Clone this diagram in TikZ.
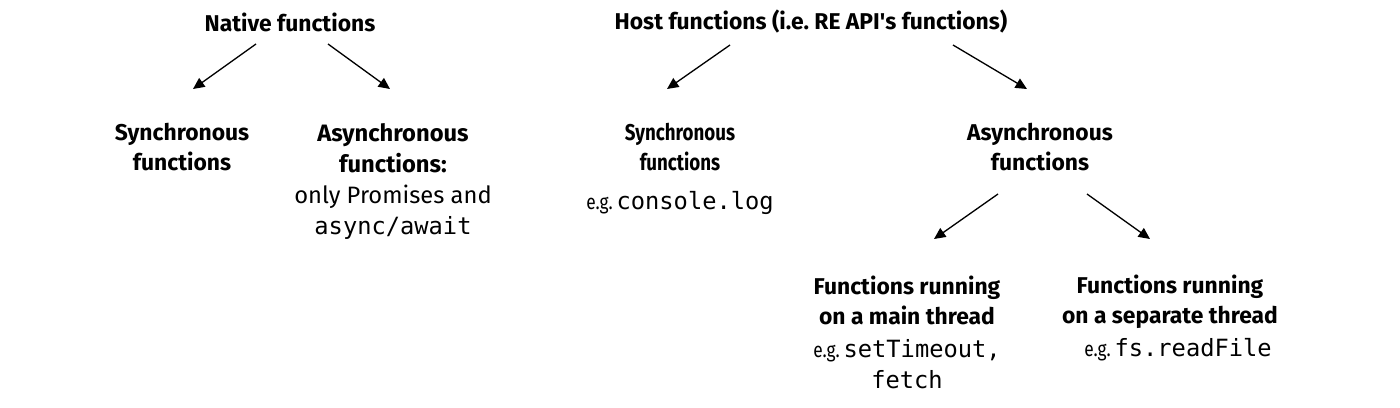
\documentclass[tikz,border=0pt]{standalone}
\usepackage{fontspec}
\setmainfont{Fira Sans}
\setmonofont{DejaVu Sans Mono}
\newfontfamily\condfont[FakeStretch=0.82]{Fira Sans}
\usetikzlibrary{arrows.meta}
\newcommand{\eg}{{\condfont\fontsize{12}{14}\selectfont e.g.}\,}

\begin{document}
\begin{tikzpicture}[
  head/.style={inner sep=0pt, align=center, font=\fontsize{13}{17}\selectfont\bfseries},
  condhead/.style={head, font=\fontsize{13}{17}\selectfont\condfont\bfseries},
  note/.style={inner sep=0pt, align=center, font=\fontsize{13.5}{17.6}\selectfont},
  arrow/.style={-{Triangle[length=6.5pt, width=6pt]}, line width=0.75pt}
]
\useasboundingbox (0,0) rectangle (28,-8.14);

% Native side
\node[head] (native) at (5.8,-0.44) {Native functions};
\node[head] (nsync) at (3.64,-2.94) {Synchronous\\functions};
\node[note] (nasync) at (7.86,-3.63) {\textbf{Asynchronous}\\\textbf{functions:}\\only Promises and\\\texttt{async/await}};

% Host side
\node[head] (host) at (16.22,-0.44) {Host functions (i.e.\ RE API\textquotesingle s functions)};
\node[condhead] (hsync) at (13.6,-2.94) {Synchronous\\functions};
\node[note] (hsyncex) at (13.6,-4.06) {\eg\texttt{console.log}};
\node[head] (hasync) at (20.8,-2.94) {Asynchronous\\functions};

% Async host functions
\node[head] (hmain) at (18.14,-6.0) {Functions running\\on a main thread};
\node[note] (hmainex) at (18.14,-7.28) {\eg\texttt{setTimeout,}\\\texttt{fetch}};
\node[head] (hsep) at (23.4,-6.04) {Functions running\\on a separate thread};
\node[note] (hsepex) at (23.56,-7.0) {\eg\texttt{fs.readFile}};

\draw[arrow] ([shift={(-0.68,-0.44)}]native.center) -- ([shift={(0.22,1.16)}]nsync.center);
\draw[arrow] ([shift={(0.76,-0.44)}]native.center) -- ([shift={(-0.06,1.85)}]nasync.center);
\draw[arrow] ([shift={(-1.62,-0.46)}]host.center) -- ([shift={(-0.26,1.16)}]hsync.center);
\draw[arrow] ([shift={(2.84,-0.46)}]host.center) -- ([shift={(-0.26,1.16)}]hasync.center);
\draw[arrow] ([shift={(-0.84,-0.94)}]hasync.center) -- ([shift={(0.54,1.22)}]hmain.center);
\draw[arrow] ([shift={(0.94,-0.94)}]hasync.center) -- ([shift={(-0.4,1.26)}]hsep.center);

\end{tikzpicture}
\end{document}
